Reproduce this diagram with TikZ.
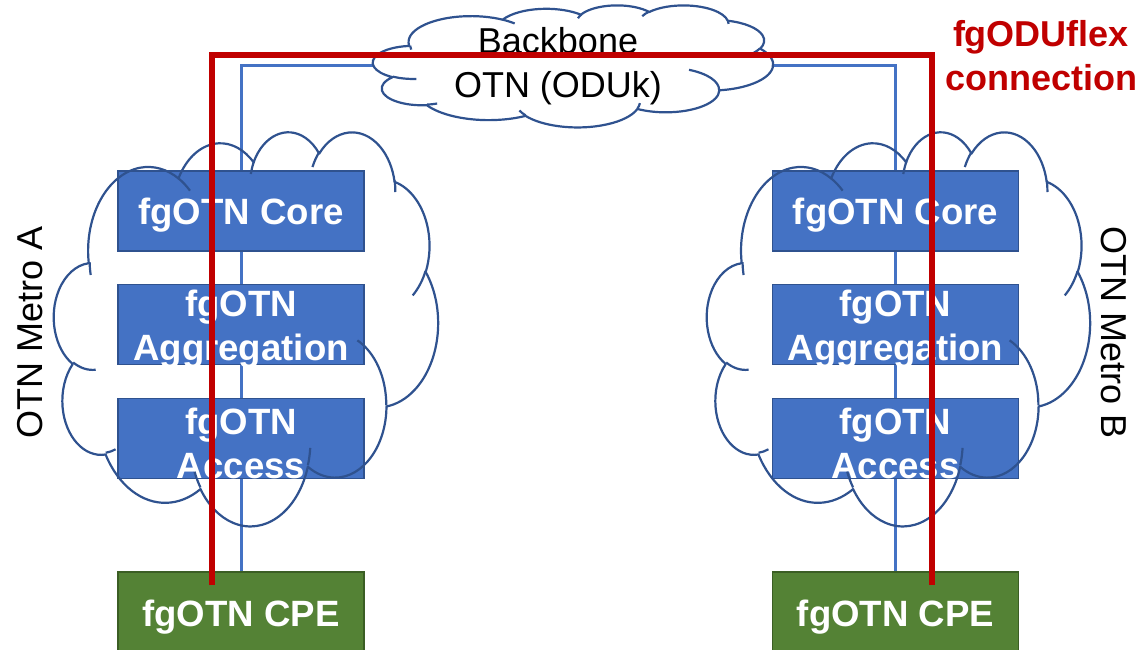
\documentclass[tikz,border=0pt]{standalone}
\usepackage{fontspec}
\setmainfont{Liberation Sans}
\definecolor{boxblue}{HTML}{4472C4}
\definecolor{boxedge}{HTML}{2F528F}
\definecolor{cpegreen}{HTML}{548235}
\definecolor{cpeedge}{HTML}{3B5E24}
\definecolor{linkred}{HTML}{C00000}
\definecolor{cloudedge}{HTML}{2F528F}
\pgfdeclarelayer{background}
\pgfsetlayers{background,main}
% OOXML-style elliptical arc: wR hR stAng swAng (visual angles, degrees)
\newcommand\carc[4]{arc[start angle={atan2(#1*sin(#3),#2*cos(#3))}, delta angle={mod(atan2(#1*sin(#3+#4),#2*cos(#3+#4))-atan2(#1*sin(#3),#2*cos(#3))+720,360)}, x radius=#1, y radius=#2]}
% cloud: name, left x, top y, width, height
\newcommand\pptcloud[5]{%
  \node[cloudbox, minimum width=#4pt, minimum height=#5pt] (#1) at ({#2+#4/2},{#3+#5/2}) {};
  \begin{scope}[shift={(#2,#3)}, x={({#4/432*1pt},0pt)}, y={(0pt,{-#5/432*1pt})}]
    \draw[cloudline] (39,143.7)
      \carc{67.53}{91.90}{-190.48748}{123.78053}
      \carc{53.33}{72.67}{-144.10238}{89.94523}
      \carc{43.65}{59.45}{-145.80792}{99.72302}
      \carc{48.57}{65.95}{-130.98607}{117.24173}
      \carc{53.33}{72.73}{-78.70888}{109.02692}
      \carc{67.75}{92.20}{-46.26725}{130.269}
      \carc{57.85}{78.67}{0.62502}{114.03333}
      \carc{67.52}{92.15}{22.4516}{115.17255}
      \carc{77.20}{105.43}{66.24263}{75.71102}
      \carc{43.60}{59.18}{-274.94208}{146.73557}
      \carc{43.45}{59.45}{-246.8285}{152.51885}
      -- cycle;
    \draw[cloudline]
      (46.93,261.77) \carc{43.45}{59.45}{86.742}{26.4295}
      (69.28,348.99) \carc{43.60}{59.18}{73.61047}{11.44747}
      (164.78,390.90) \carc{67.52}{92.15}{137.62415}{14.0811}
      (288.27,347.51) \carc{67.52}{92.15}{6.45327}{15.99835}
      (341.29,229.54) \carc{57.85}{78.67}{-70.29235}{70.91737}
      (417.98,153.54) \carc{53.33}{72.73}{30.31803}{27.7515}
      (383.24,54.26) \carc{48.57}{65.95}{-13.74433}{14.8589}
      (290.78,39.52) \carc{48.57}{65.95}{-149.18145}{18.19537}
      (221.41,47.20) \carc{43.65}{59.45}{-163.49427}{17.68635}
      (140.00,51.92) \carc{67.53}{91.90}{-66.70695}{12.31935}
      (41.27,157.89) \carc{67.53}{91.90}{165.09835}{11.85185};
  \end{scope}}
\begin{document}
\begin{tikzpicture}[x=1pt,y=-1pt,
  box/.style={draw=boxedge, line width=1.5pt, fill=boxblue, minimum width=246pt, minimum height=80pt, inner sep=0pt},
  cpebox/.style={box, draw=cpeedge, fill=cpegreen, minimum height=82pt},
  boxtext/.style={text=white, font=\fontsize{36.6}{44}\selectfont\bfseries, align=center, yshift=-4.5pt, inner sep=0pt},
  plainlabel/.style={text=black, font=\fontsize{36}{44}\selectfont, align=center, inner sep=0pt},
  redlabel/.style={text=linkred, font=\fontsize{36}{44}\selectfont\bfseries, align=center, inner sep=0pt},
  cloudbox/.style={draw=none, inner sep=0pt},
  cloudline/.style={draw=cloudedge, line width=2.2pt, line join=round},
  blueline/.style={draw=boxblue, line width=3pt},
  redline/.style={draw=linkred, line width=5.5pt, line join=miter}]
\useasboundingbox (0,0) rectangle (1143,650);

% left stack
\node[box] (coreA) at (241,211) {};
\node[box] (aggA) at (241,324.5) {};
\node[box] (accA) at (241,438.5) {};
\node[cpebox] (cpeA) at (241,613) {};
% right stack
\node[box] (coreB) at (895.5,211) {};
\node[box] (aggB) at (895.5,324.5) {};
\node[box] (accB) at (895.5,438.5) {};
\node[cpebox] (cpeB) at (895.5,613) {};

\node[boxtext] (coreAt) at (coreA) {fgOTN Core};
\node[boxtext] (aggAt) at (aggA) {fgOTN\\Aggregation};
\node[boxtext] (accAt) at (accA) {fgOTN\\Access};
\node[boxtext] (cpeAt) at (cpeA) {fgOTN CPE};
\node[boxtext] (coreBt) at (coreB) {fgOTN Core};
\node[boxtext] (aggBt) at (aggB) {fgOTN\\Aggregation};
\node[boxtext] (accBt) at (accB) {fgOTN\\Access};
\node[boxtext] (cpeBt) at (cpeB) {fgOTN CPE};

% clouds
\pptcloud{metroA}{54}{131}{384}{394}
\pptcloud{metroB}{707}{131}{383}{394}
\pptcloud{bb}{373}{5}{400}{122}

% blue ODUk links (behind boxes)
\begin{pgfonlayer}{background}
\draw[blueline] (cpeA.north) |- (bb.west);
\draw[blueline] (bb.east) -| (cpeB.north);
\end{pgfonlayer}

% labels
\node[plainlabel] (bbtext) at (558,66) {Backbone\\OTN (ODUk)};
\node[plainlabel, rotate=90] (metroAtext) at (30,332) {OTN Metro A};
\node[plainlabel, rotate=-90] (metroBtext) at (1113.5,333) {OTN Metro B};
\node[redlabel] (flexlabel) at (1041,56) {fgODUflex\\connection};

% red fgODUflex connection
\coordinate (redA) at (212,585);
\coordinate (redB) at (932,585);
\coordinate (redTop) at (572,55);
\draw[redline] (redA) |- (redTop) -| (redB);
\end{tikzpicture}
\end{document}
